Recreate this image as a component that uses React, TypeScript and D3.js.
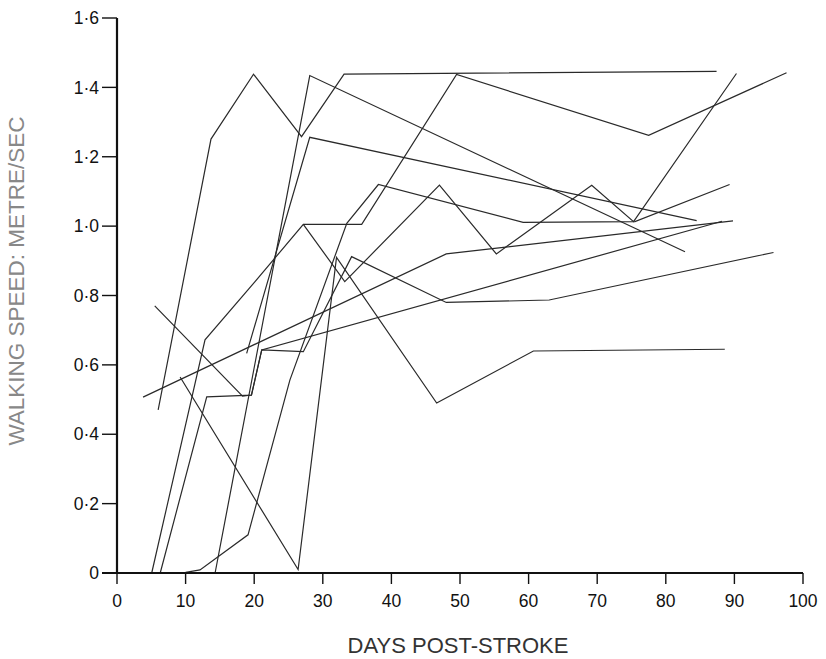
import React from "react";
import * as d3 from "d3";

const xTicks = [0, 10, 20, 30, 40, 50, 60, 70, 80, 90, 100];
const yTicks = [0, 0.2, 0.4, 0.6, 0.8, 1.0, 1.2, 1.4, 1.6];
const yTickLabels = ["0", "0·2", "0·4", "0·6", "0·8", "1·0", "1·2", "1·4", "1·6"];

const patientA = [[6, 0.47], [13.7, 1.251], [19.9, 1.438], [26.9, 1.258], [33.1, 1.438], [87.4, 1.446]];
const patientB = [[14.3, 0], [28.1, 1.434], [82.8, 0.926]];
const patientC = [[18.9, 0.633], [28.1, 1.256], [84.5, 1.016]];
const patientD = [[6.3, 0], [13.08, 0.508], [19.6, 0.513], [21.1, 0.643], [27.16, 0.638], [34.2, 0.912], [48, 0.78], [63, 0.787], [95.7, 0.924]];
const patientE = [[5.5, 0.77], [18.3, 0.51], [19.6, 0.513], [21.1, 0.643], [88.2, 1.014]];
const patientF = [[3.8, 0.507], [48, 0.92], [89.8, 1.015]];
const patientG = [[5.06, 0], [12.83, 0.672], [20.12, 0.84], [27.16, 1.005], [35.67, 1.005], [49.5, 1.437], [77.5, 1.262], [97.6, 1.442]];
const patientH = [[0, 0], [10, 0.002], [12.1, 0.009], [19.1, 0.11], [25.2, 0.556], [33.5, 1.008], [38.1, 1.12], [59.2, 1.011], [75.5, 1.013], [89.3, 1.12]];
const patientI = [[9.2, 0.565], [26.4, 0.01], [32, 0.91], [46.6, 0.49], [60.7, 0.64], [88.6, 0.645]];
const patientX = [[27.16, 1.005], [33.2, 0.84], [47, 1.118], [55.3, 0.92], [69.2, 1.118], [75.3, 1.013], [90.3, 1.44]];

const patients = [patientA, patientB, patientC, patientD, patientE, patientF, patientG, patientH, patientI, patientX];

export default function App() {
  const x = d3.scaleLinear().domain([0, 100]).range([117, 803]);
  const y = d3.scaleLinear().domain([0, 1.6]).range([573, 18]);
  const line = d3.line<number[]>().x((d) => x(d[0])).y((d) => y(d[1]));
  const font = "'Liberation Sans', Arial, sans-serif";
  return (
    <svg width={826} height={659} style={{ position: "absolute", left: 0, top: 0, background: "#fff" }}>
      {patients.map((p, i) => (
        <path key={i} d={line(p) || ""} fill="none" stroke="#2a2a2a" strokeWidth={1.2} strokeLinejoin="miter" />
      ))}
      <line x1={x(0)} x2={x(0)} y1={y(1.6)} y2={y(0)} stroke="#111" strokeWidth={2.2} />
      <line x1={102} x2={x(100)} y1={y(0)} y2={y(0)} stroke="#111" strokeWidth={2.2} />
      {yTicks.map((t, i) => (
        <g key={t}>
          <line x1={102} x2={x(0)} y1={y(t)} y2={y(t)} stroke="#111" strokeWidth={1.4} />
          <text x={99} y={y(t)} dy="0.35em" textAnchor="end" fontFamily={font} fontSize={17.5} fill="#111">
            {yTickLabels[i]}
          </text>
        </g>
      ))}
      {xTicks.map((t) => (
        <g key={t}>
          <line x1={x(t)} x2={x(t)} y1={y(0)} y2={y(0) + 11} stroke="#111" strokeWidth={1.4} />
          <text x={x(t)} y={601} dy="0.35em" textAnchor="middle" fontFamily={font} fontSize={17.5} fill="#111">
            {t}
          </text>
        </g>
      ))}
      <text x={458} y={645} dy="0.35em" textAnchor="middle" fontFamily={font} fontSize={22} fill="#333">
        DAYS POST-STROKE
      </text>
      <text transform="translate(16,281) rotate(-90)" dy="0.35em" textAnchor="middle" fontFamily={font} fontSize={22.5} fill="#888">
        WALKING SPEED: METRE/SEC
      </text>
    </svg>
  );
}
